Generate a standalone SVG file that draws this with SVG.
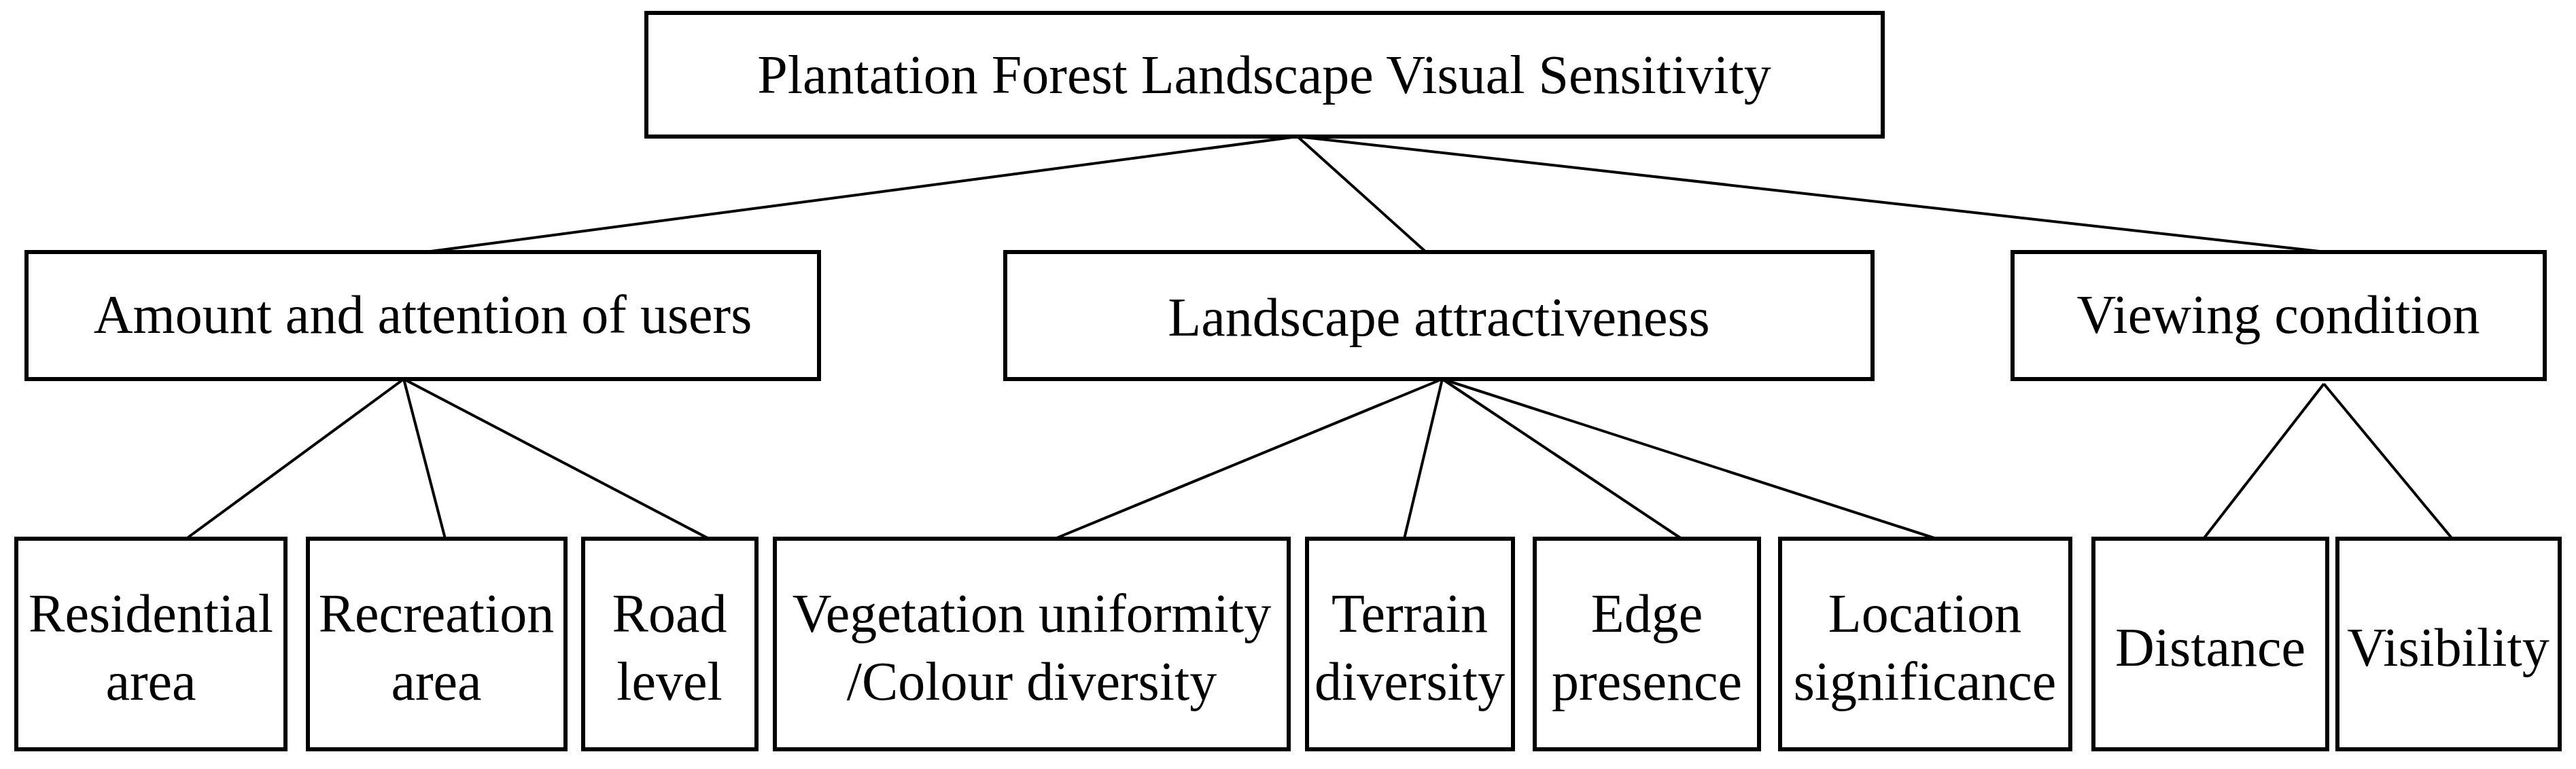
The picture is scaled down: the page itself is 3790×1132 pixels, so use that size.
<svg xmlns="http://www.w3.org/2000/svg" width="3790" height="1132" viewBox="0 0 3790 1132">
<style>
rect{fill:#fff;stroke:#000;stroke-width:6}
line{stroke:#000;stroke-width:4}
text{font-family:"Liberation Serif",serif;font-size:80px;fill:#000;text-anchor:middle}
</style>
<rect x="0" y="0" width="3790" height="1132" style="stroke:none"/>
<g id="connectors">
<line x1="1909" y1="201" x2="626" y2="371"/><line x1="1909" y1="201" x2="2098" y2="371"/><line x1="1909" y1="201" x2="3422" y2="371"/>
<line x1="594" y1="558" x2="274" y2="793"/><line x1="594" y1="558" x2="655" y2="793"/><line x1="594" y1="558" x2="1043" y2="793"/>
<line x1="2122" y1="558" x2="1552" y2="793"/><line x1="2122" y1="558" x2="2066" y2="793"/><line x1="2122" y1="558" x2="2474" y2="793"/><line x1="2122" y1="558" x2="2849" y2="793"/>
<line x1="3419" y1="565" x2="3242" y2="793"/><line x1="3419" y1="565" x2="3608" y2="793"/>
</g>
<g id="root"><rect x="951" y="19" width="1819" height="182"/><text x="1860" y="137">Plantation Forest Landscape Visual Sensitivity</text></g>
<g id="users"><rect x="39" y="371" width="1166" height="187"/><text x="622" y="490">Amount and attention of users</text></g>
<g id="attract"><rect x="1479" y="371" width="1276" height="187"/><text x="2117" y="494">Landscape attractiveness</text></g>
<g id="viewing"><rect x="2961" y="371" width="783" height="187"/><text x="3352" y="490">Viewing condition</text></g>
<g id="n1"><rect x="24" y="793" width="396" height="310"/><text x="222" y="930">Residential</text><text x="222" y="1030">area</text></g>
<g id="n2"><rect x="453" y="793" width="379" height="310"/><text x="642" y="930">Recreation</text><text x="642" y="1030">area</text></g>
<g id="n3"><rect x="858" y="793" width="255" height="310"/><text x="985" y="930">Road</text><text x="985" y="1030">level</text></g>
<g id="n4"><rect x="1140" y="793" width="756" height="310"/><text x="1518" y="930">Vegetation uniformity</text><text x="1518" y="1030">/Colour diversity</text></g>
<g id="n5"><rect x="1923" y="793" width="303" height="310"/><text x="2074" y="930">Terrain</text><text x="2074" y="1030">diversity</text></g>
<g id="n6"><rect x="2258" y="793" width="330" height="310"/><text x="2423" y="930">Edge</text><text x="2423" y="1030">presence</text></g>
<g id="n7"><rect x="2619" y="793" width="427" height="310"/><text x="2832" y="930">Location</text><text x="2832" y="1030">significance</text></g>
<g id="n8"><rect x="3080" y="793" width="344" height="310"/><text x="3252" y="980">Distance</text></g>
<g id="n9"><rect x="3439" y="793" width="327" height="310"/><text x="3602" y="980">Visibility</text></g>
</svg>
